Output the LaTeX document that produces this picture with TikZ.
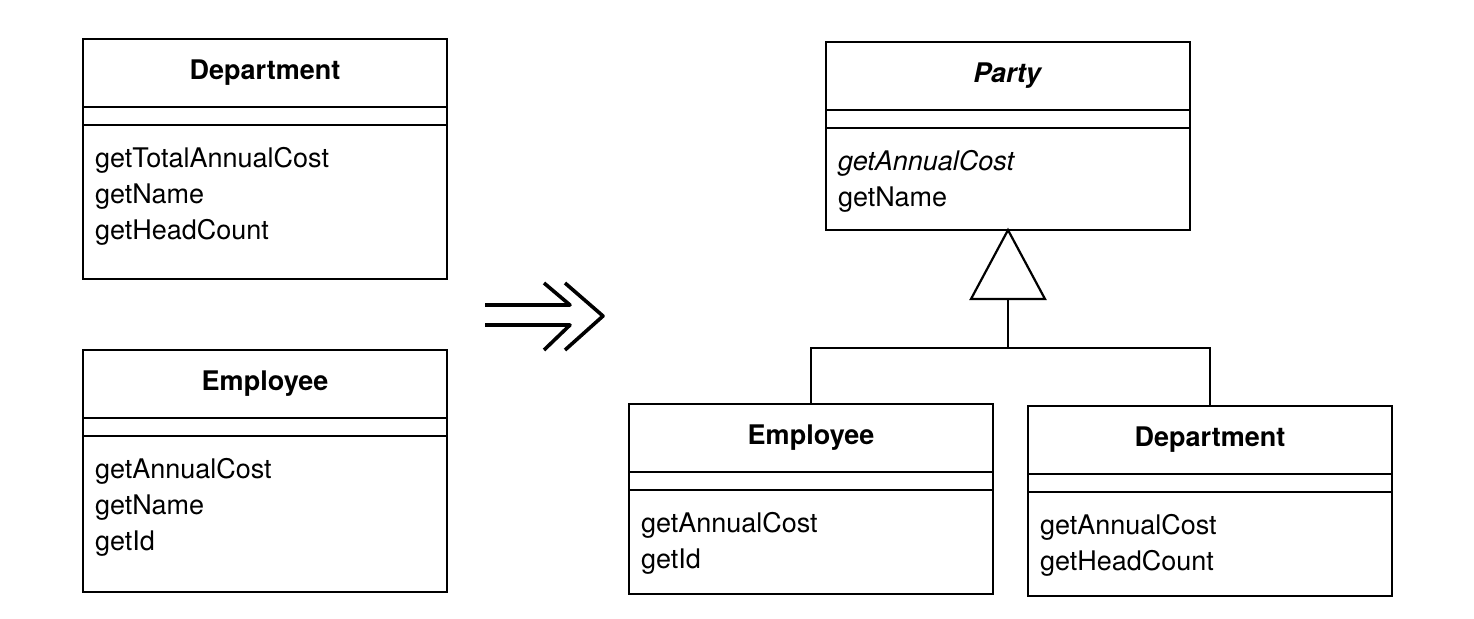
\documentclass[tikz,border=0pt]{standalone}
\usepackage{fontspec}
\setmainfont{TeX Gyre Heros}
\usetikzlibrary{positioning,calc}

\newcommand\umlfont{\fontsize{13.5}{18}\selectfont}

\begin{document}
\begin{tikzpicture}[x=0.5pt, y=-0.5pt, line width=1.1pt,
		every node/.style={outer sep=0pt, inner sep=0pt},
		classname/.style={draw, minimum width=182pt, minimum height=34pt, anchor=north west, font=\umlfont\bfseries},
		classattr/.style={draw, minimum width=182pt, minimum height=9pt},
		classops/.style={draw, minimum width=182pt, minimum height=#1},
		opstext/.style={anchor=north west, align=left, font=\umlfont},
		refactor/.style={line width=1.8pt, line join=round}]
	\useasboundingbox (0,0) rectangle (1474,618);

	% before
	\node[classname] (ldept) at (83,39) {Department};
	\node[classattr, below=0pt of ldept] (ldept-attr) {};
	\node[classops=77pt, below=0pt of ldept-attr] (ldept-ops) {};
	\node[opstext] (ldept-list) at ([xshift=6pt, yshift=-11pt]ldept-ops.north west) {getTotalAnnualCost\\getName\\getHeadCount};

	\node[classname] (lemp) at (83,350) {Employee};
	\node[classattr, below=0pt of lemp] (lemp-attr) {};
	\node[classops=78pt, below=0pt of lemp-attr] (lemp-ops) {};
	\node[opstext] (lemp-list) at ([xshift=6pt, yshift=-11pt]lemp-ops.north west) {getAnnualCost\\getName\\getId};

	% refactoring arrow
	\draw[refactor] (485,305) -- (570,305) -- (544,283);
	\draw[refactor] (485,325) -- (570,325) -- (544,350);
	\draw[refactor] (565,283) -- (603,316) -- (565,350);

	% after
	\node[classname] (party) at (826,42) {\textit{Party}};
	\node[classattr, below=0pt of party] (party-attr) {};
	\node[classops=51pt, below=0pt of party-attr] (party-ops) {};
	\node[opstext] (party-list) at ([xshift=6pt, yshift=-11pt]party-ops.north west) {\textit{getAnnualCost}\\getName};

	\node[classname] (remp) at (629,404) {Employee};
	\node[classattr, below=0pt of remp] (remp-attr) {};
	\node[classops=52pt, below=0pt of remp-attr] (remp-ops) {};
	\node[opstext] (remp-list) at ([xshift=6pt, yshift=-11pt]remp-ops.north west) {getAnnualCost\\getId};

	\node[classname] (rdept) at (1028,406) {Department};
	\node[classattr, below=0pt of rdept] (rdept-attr) {};
	\node[classops=52pt, below=0pt of rdept-attr] (rdept-ops) {};
	\node[opstext] (rdept-list) at ([xshift=6pt, yshift=-11pt]rdept-ops.north west) {getAnnualCost\\getHeadCount};

	% generalization
	\coordinate (tritop) at (party-ops.south);
	\draw (tritop) -- ++(-37,69) coordinate (trileft) -- ++(74,0) coordinate (triright) -- cycle;
	\coordinate (tribase) at ($(trileft)!0.5!(triright)$);
	\draw (tribase) -- ++(0,49) coordinate (fork);
	\draw (remp.north) |- (fork) -| (rdept.north);
\end{tikzpicture}
\end{document}
